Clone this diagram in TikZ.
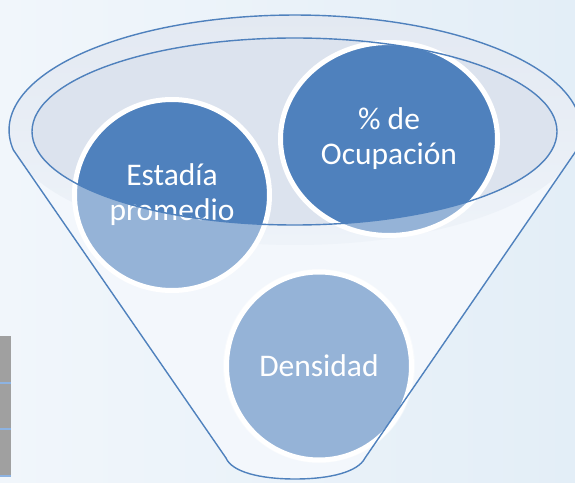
\documentclass[tikz,border=0pt]{standalone}
\usepackage{fontspec}
\setmainfont{Carlito}
\usetikzlibrary{shapes.geometric}
\definecolor{dblue}{HTML}{4F81BD}
\definecolor{bgl}{HTML}{F1F6FB}
\definecolor{bgr}{HTML}{E3EEF7}
\definecolor{bodyc}{HTML}{F3F7FC}
\definecolor{ringt}{HTML}{E3E9F2}
\definecolor{ringb}{HTML}{EEF3F9}
\definecolor{innerc}{HTML}{DCE3EE}
\definecolor{barc}{HTML}{A0A0A0}
\definecolor{barl}{HTML}{8DB3E2}
\begin{document}
\begin{tikzpicture}[x=1pt,y=1pt,
  circ/.style={ellipse, draw=white, line width=5pt, fill=dblue, text=white,
    align=center, inner sep=0pt, font=\fontsize{31.5}{35}\selectfont},
  funline/.style={draw=dblue, line width=1.4pt},
  veil/.style={fill=white, fill opacity=0.4, even odd rule}]
\useasboundingbox (0,0) rectangle (575,482);
\shade[left color=bgl, right color=bgr] (0,0) rectangle (575,482);
% funnel body
\fill[bodyc] (576.7,332) arc[start angle=-10,end angle=190,x radius=286pt,y radius=115pt]
  -- (226,24) .. controls (232,10) and (260,3) .. (295,3)
  .. controls (330,3) and (358,10) .. (365,24) -- cycle;
\shade[top color=ringt, bottom color=ringb] (295,352) ellipse [x radius=286pt, y radius=115pt];
\fill[innerc] (294.5,350.5) ellipse [x radius=262.5pt, y radius=93.5pt];
% circles
\node[circ, minimum width=195pt, minimum height=191pt] (est) at (172,287) {Estadía\\promedio};
\node[circ, minimum width=217pt, minimum height=193pt] (ocu) at (389,343) {\% de\\Ocupación};
\node[circ, minimum width=185pt, minimum height=188pt] (den) at (319,116) {Densidad};
% white veil over the parts outside the funnel mouth
\begin{scope}
  \clip (est.center) ellipse [x radius=100pt, y radius=98pt];
  \fill[veil] (-10,-10) rectangle (600,500) (294.5,350.5) ellipse [x radius=262.5pt, y radius=93.5pt];
\end{scope}
\begin{scope}
  \clip (ocu.center) ellipse [x radius=111pt, y radius=99pt];
  \fill[veil] (-10,-10) rectangle (600,500) (294.5,350.5) ellipse [x radius=262.5pt, y radius=93.5pt];
\end{scope}
\begin{scope}
  \clip (den.center) ellipse [x radius=96pt, y radius=97pt];
  \fill[veil] (-10,-10) rectangle (600,500) (294.5,350.5) ellipse [x radius=262.5pt, y radius=93.5pt];
\end{scope}
% outlines
\draw[funline] (576.7,332) arc[start angle=-10,end angle=190,x radius=286pt,y radius=115pt]
  -- (226,24) .. controls (232,10) and (260,3) .. (295,3)
  .. controls (330,3) and (358,10) .. (365,24) -- cycle;
\draw[funline] (294.5,350.5) ellipse [x radius=262.5pt, y radius=93.5pt];
% gray bar at left edge
\fill[barc] (0,6) rectangle (10.7,146);
\foreach \yy in {99,53,6} \fill[barl] (0,\yy-1) rectangle (10.7,\yy+1);
\end{tikzpicture}
\end{document}
